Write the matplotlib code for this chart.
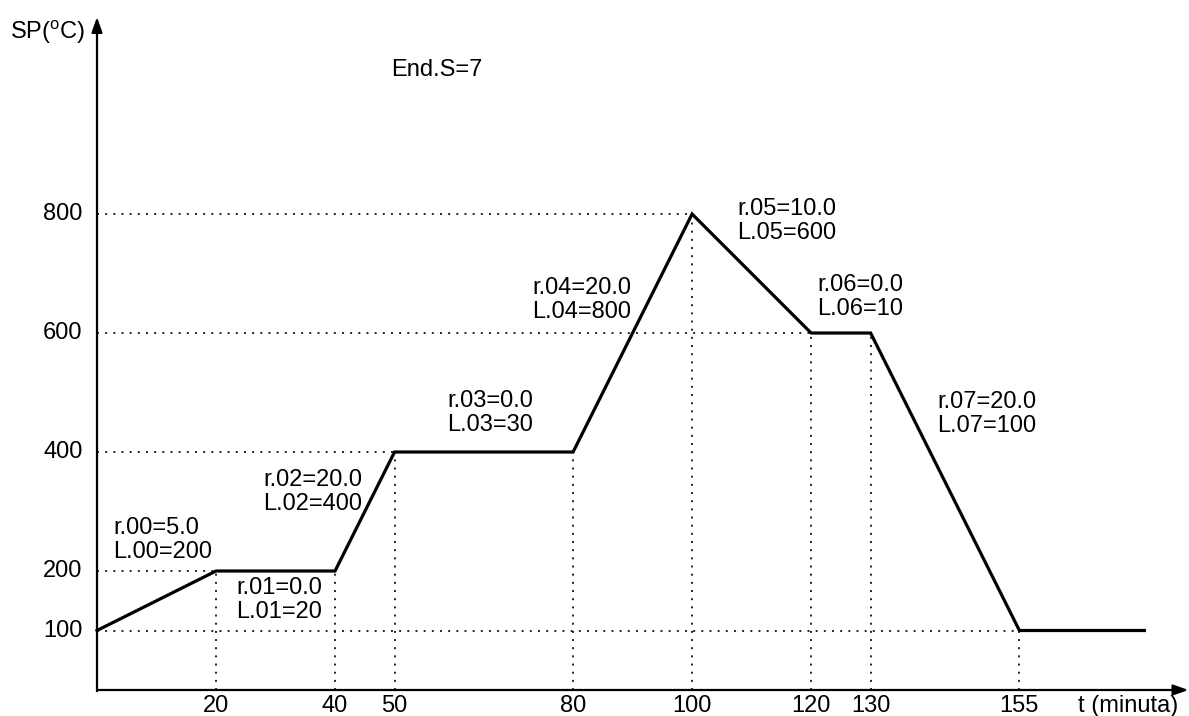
import numpy as np
import matplotlib
matplotlib.use("Agg")
import matplotlib.pyplot as plt

plt.rcParams['font.family'] = ['Liberation Sans', 'DejaVu Sans']
plt.rcParams['mathtext.fontset'] = 'custom'
plt.rcParams['mathtext.rm'] = 'Liberation Sans'

# setpoint profile (time in minutes, SP in degC)
t_pts = [0, 20, 40, 50, 80, 100, 120, 130, 155, 176]
sp_pts = [100, 200, 200, 400, 400, 800, 600, 600, 100, 100]

xtick_vals = [20, 40, 50, 80, 100, 120, 130, 155]
ytick_vals = [100, 200, 400, 600, 800]

# segment parameters
r_vals = ["5.0", "0.0", "20.0", "0.0", "20.0", "10.0", "0.0", "20.0"]
l_vals = ["200", "20", "400", "30", "800", "600", "10", "100"]
end_s = 7

# where each segment label sits (left edge, vertical centre)
lbl_x = [2.7, 23.4, 27.9, 58.8, 73.1, 107.6, 121.0, 141.2]
lbl_y = [252, 151, 333, 465, 655, 788, 660, 464]

fig = plt.figure(figsize=(11.89, 7.16), dpi=100)
ax = fig.add_axes([0, 0, 1, 1])
ax.set_xlim(-16.3, 183.5)
ax.set_ylim(-43.7, 1159.7)
ax.axis('off')

dot = dict(color='#222222', lw=1.4, linestyle=(0, (1, 3.2)))

# dotted helper lines from the axes to each corner point
for tx, sy in zip(t_pts[1:-1], sp_pts[1:-1]):
    ax.plot([tx, tx], [0, sy], **dot)
hlines = {800: 100, 600: 120, 400: 80, 200: 40, 100: 155}
for sy, tx in hlines.items():
    ax.plot([0, tx], [sy, sy], **dot)

# profile
ax.plot(t_pts, sp_pts, color='black', lw=2.3, solid_joinstyle='miter')

# axes with arrows
ax.annotate('', xy=(183.4, 0), xytext=(0, 0),
            arrowprops=dict(arrowstyle='-|>,head_length=0.9,head_width=0.32',
                            color='black', lw=1.6, shrinkA=0, shrinkB=0))
ax.annotate('', xy=(0, 1131), xytext=(0, -2),
            arrowprops=dict(arrowstyle='-|>,head_length=0.9,head_width=0.32',
                            color='black', lw=1.6, shrinkA=0, shrinkB=0))

fs = 17
for v in xtick_vals:
    ax.text(v, -27, str(v), ha='center', va='center', fontsize=fs)
for v in ytick_vals:
    ax.text(-2.4, v, str(v), ha='right', va='center', fontsize=fs)

ax.text(173.3, -27, 't (minuta)', ha='center', va='center', fontsize=fs)
ax.text(-14.6, 1106, r'SP($^{\rm o}$C)', ha='left', va='center', fontsize=fs)
ax.text(49.5, 1042, 'End.S=%d' % end_s, ha='left', va='center', fontsize=fs)

for i in range(len(r_vals)):
    ax.text(lbl_x[i], lbl_y[i], 'r.%02d=%s\nL.%02d=%s' % (i, r_vals[i], i, l_vals[i]),
            ha='left', va='center', fontsize=fs, linespacing=1.1)

fig.savefig('out.png', dpi=100, facecolor='white')
